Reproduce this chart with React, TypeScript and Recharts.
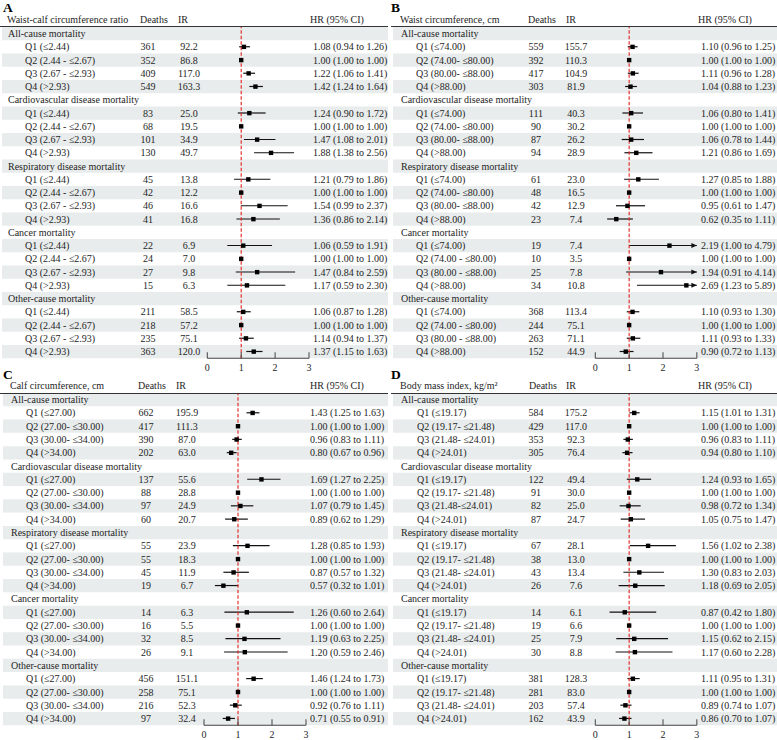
import { ComposedChart, Bar, Scatter, XAxis, YAxis, ReferenceLine, ReferenceArea } from "recharts";

const GROUPS = [
  "All-cause mortality",
  "Cardiovascular disease mortality",
  "Respiratory disease mortality",
  "Cancer mortality",
  "Other-cause mortality",
];
const X_TICKS = [0, 1, 2, 3];

// A: waist-calf circumference ratio
const WCR_LABELS = ["Q1 (≤2.44)", "Q2 (2.44 - ≤2.67)", "Q3 (2.67 - ≤2.93)", "Q4 (>2.93)"];
const WCR_DEATHS = [361, 352, 409, 549, 83, 68, 101, 130, 45, 42, 46, 41, 22, 24, 27, 15, 211, 218, 235, 363];
const WCR_IR = [92.2, 86.8, 117.0, 163.3, 25.0, 19.5, 34.9, 49.7, 13.8, 12.2, 16.6, 16.8, 6.9, 7.0, 9.8, 6.3, 58.5, 57.2, 75.1, 120.0];
const WCR_HR = [1.08, 1, 1.22, 1.42, 1.24, 1, 1.47, 1.88, 1.21, 1, 1.54, 1.36, 1.06, 1, 1.47, 1.17, 1.06, 1, 1.14, 1.37];
const WCR_LO = [0.94, 1, 1.06, 1.24, 0.9, 1, 1.08, 1.38, 0.79, 1, 0.99, 0.86, 0.59, 1, 0.84, 0.59, 0.87, 1, 0.94, 1.15];
const WCR_HI = [1.26, 1, 1.41, 1.64, 1.72, 1, 2.01, 2.56, 1.86, 1, 2.37, 2.14, 1.91, 1, 2.59, 2.3, 1.28, 1, 1.37, 1.63];

// B: waist circumference
const WC_LABELS = [
  "Q1 (≤74.00)", "Q2 (74.00- ≤80.00)", "Q3 (80.00- ≤88.00)", "Q4 (>88.00)",
  "Q1 (≤74.00)", "Q2 (74.00- ≤80.00)", "Q3 (80.00- ≤88.00)", "Q4 (>88.00)",
  "Q1 (≤74.00)", "Q2 (74.00- ≤80.00)", "Q3 (80.00- ≤88.00)", "Q4 (>88.00)",
  "Q1 (≤74.00)", "Q2 (74.00 - ≤80.00)", "Q3 (80.00 - ≤88.00)", "Q4 (>88.00)",
  "Q1 (≤74.00)", "Q2 (74.00 - ≤80.00)", "Q3 (80.00 - ≤88.00)", "Q4 (>88.00)",
];
const WC_DEATHS = [559, 392, 417, 303, 111, 90, 87, 94, 61, 48, 42, 23, 19, 10, 25, 34, 368, 244, 263, 152];
const WC_IR = [155.7, 110.3, 104.9, 81.9, 40.3, 30.2, 26.2, 28.9, 23.0, 16.5, 12.9, 7.4, 7.4, 3.5, 7.8, 10.8, 113.4, 75.1, 71.1, 44.9];
const WC_HR = [1.1, 1, 1.11, 1.04, 1.06, 1, 1.06, 1.21, 1.27, 1, 0.95, 0.62, 2.19, 1, 1.94, 2.69, 1.1, 1, 1.11, 0.9];
const WC_LO = [0.96, 1, 0.96, 0.88, 0.8, 1, 0.78, 0.86, 0.85, 1, 0.61, 0.35, 1.0, 1, 0.91, 1.23, 0.93, 1, 0.93, 0.72];
const WC_HI = [1.25, 1, 1.28, 1.23, 1.41, 1, 1.44, 1.69, 1.88, 1, 1.47, 1.11, 4.79, 1, 4.14, 5.89, 1.3, 1, 1.33, 1.13];

// C: calf circumference
const CC_LABELS = ["Q1 (≤27.00)", "Q2 (27.00- ≤30.00)", "Q3 (30.00- ≤34.00)", "Q4 (>34.00)"];
const CC_DEATHS = [662, 417, 390, 202, 137, 88, 97, 60, 55, 55, 45, 19, 14, 16, 32, 26, 456, 258, 216, 97];
const CC_IR = [195.9, 111.3, 87.0, 63.0, 55.6, 28.8, 24.9, 20.7, 23.9, 18.3, 11.9, 6.7, 6.3, 5.5, 8.5, 9.1, 151.1, 75.1, 52.3, 32.4];
const CC_HR = [1.43, 1, 0.96, 0.8, 1.69, 1, 1.07, 0.89, 1.28, 1, 0.87, 0.57, 1.26, 1, 1.19, 1.2, 1.46, 1, 0.92, 0.71];
const CC_LO = [1.25, 1, 0.83, 0.67, 1.27, 1, 0.79, 0.62, 0.85, 1, 0.57, 0.32, 0.6, 1, 0.63, 0.59, 1.24, 1, 0.76, 0.55];
const CC_HI = [1.63, 1, 1.11, 0.96, 2.25, 1, 1.45, 1.29, 1.93, 1, 1.32, 1.01, 2.64, 1, 2.25, 2.46, 1.73, 1, 1.11, 0.91];

// D: body mass index
const BMI_LABELS = [
  "Q1 (≤19.17)", "Q2 (19.17- ≤21.48)", "Q3 (21.48- ≤24.01)", "Q4 (>24.01)",
  "Q1 (≤19.17)", "Q2 (19.17- ≤21.48)", "Q3 (21.48-≤24.01)", "Q4 (>24.01)",
  "Q1 (≤19.17)", "Q2 (19.17- ≤21.48)", "Q3 (21.48- ≤24.01)", "Q4 (>24.01)",
  "Q1 (≤19.17)", "Q2 (19.17- ≤21.48)", "Q3 (21.48- ≤24.01)", "Q4 (>24.01)",
  "Q1 (≤19.17)", "Q2 (19.17- ≤21.48)", "Q3 (21.48- ≤24.01)", "Q4 (>24.01)",
];
const BMI_DEATHS = [584, 429, 353, 305, 122, 91, 82, 87, 67, 38, 43, 26, 14, 19, 25, 30, 381, 281, 203, 162];
const BMI_IR = [175.2, 117.0, 92.3, 76.4, 49.4, 30.0, 25.0, 24.7, 28.1, 13.0, 13.4, 7.6, 6.1, 6.6, 7.9, 8.8, 128.3, 83.0, 57.4, 43.9];
const BMI_HR = [1.15, 1, 0.96, 0.94, 1.24, 1, 0.98, 1.05, 1.56, 1, 1.3, 1.18, 0.87, 1, 1.15, 1.17, 1.11, 1, 0.89, 0.86];
const BMI_LO = [1.01, 1, 0.83, 0.8, 0.93, 1, 0.72, 0.75, 1.02, 1, 0.83, 0.69, 0.42, 1, 0.62, 0.6, 0.95, 1, 0.74, 0.7];
const BMI_HI = [1.31, 1, 1.11, 1.1, 1.65, 1, 1.34, 1.47, 2.38, 1, 2.03, 2.05, 1.8, 1, 2.15, 2.28, 1.31, 1, 1.07, 1.07];

const FONT = "'Liberation Serif', 'Times New Roman', serif";
const INK = "#1e1e1e";
const STRIPE = "#e8ecec";
const X_MAX = 3;

type Row = {
  id: string;
  kind: "group" | "q";
  text: string;
  deaths?: number;
  ir?: number;
  hr?: number | null;
  lo?: number;
  hi?: number;
  ci?: [number, number] | null;
  arrow?: boolean;
};

function buildRows(labels: string[], deaths: number[], ir: number[], hr: number[], lo: number[], hi: number[]): Row[] {
  const rows: Row[] = [];
  GROUPS.forEach((g, gi) => {
    rows.push({ id: `r${rows.length}`, kind: "group", text: g, hr: null, ci: null });
    for (let q = 0; q < 4; q++) {
      const i = gi * 4 + q;
      rows.push({
        id: `r${rows.length}`,
        kind: "q",
        text: labels[i % labels.length],
        deaths: deaths[i],
        ir: ir[i],
        hr: hr[i],
        lo: lo[i],
        hi: hi[i],
        ci: [lo[i], Math.min(hi[i], X_MAX)],
        arrow: hi[i] > X_MAX,
      });
    }
  });
  return rows;
}

const PANELS = [
  {
    letter: "A", title: "Waist-calf circumference ratio", left: 0, rowTop: 26.5, rowH: 13.25, x0: 207.3, unit: 33.9,
    stripe: [2, 388], rule: [0, 388],
    cols: { group: 8, q: 25, dHead: 140, dMid: 148, iHead: 178, iMid: 189, hHead: 310, hX: 313 },
    rows: buildRows(WCR_LABELS, WCR_DEATHS, WCR_IR, WCR_HR, WCR_LO, WCR_HI),
  },
  {
    letter: "B", title: "Waist circumference, cm", left: 388, rowTop: 26.5, rowH: 13.25, x0: 207.3, unit: 33.85,
    stripe: [5, 389], rule: [3, 389],
    cols: { group: 13, q: 28, dHead: 140, dMid: 148, iHead: 178, iMid: 188, hHead: 310, hX: 313 },
    rows: buildRows(WC_LABELS, WC_DEATHS, WC_IR, WC_HR, WC_LO, WC_HI),
  },
  {
    letter: "C", title: "Calf circumference, cm", left: 0, rowTop: 393.4, rowH: 13.29, x0: 204, unit: 34,
    stripe: [3, 388], rule: [0, 388],
    cols: { group: 11, q: 26, dHead: 138, dMid: 146, iHead: 176, iMid: 187, hHead: 310, hX: 310 },
    rows: buildRows(CC_LABELS, CC_DEATHS, CC_IR, CC_HR, CC_LO, CC_HI),
  },
  {
    letter: "D", title: "Body mass index, kg/m²", left: 388, rowTop: 393.4, rowH: 13.29, x0: 207.3, unit: 33.85,
    stripe: [5, 389], rule: [3, 389],
    cols: { group: 13, q: 29, dHead: 141, dMid: 148, iHead: 178, iMid: 188, hHead: 310, hX: 313 },
    rows: buildRows(BMI_LABELS, BMI_DEATHS, BMI_IR, BMI_HR, BMI_LO, BMI_HI),
  },
];

const PANEL_W = 389;

function RowTick(props: any) {
  const { y, payload, rows, cols } = props;
  const r: Row | undefined = rows.find((d: Row) => d.id === payload.value);
  if (!r) return <g />;
  const common = { y, dy: "0.35em", fontFamily: FONT, fontSize: 10, fill: INK };
  if (r.kind === "group") {
    return <text {...common} x={cols.group}>{r.text}</text>;
  }
  return (
    <g>
      <text {...common} x={cols.q}>{r.text}</text>
      <text {...common} x={cols.dMid} textAnchor="middle">{r.deaths}</text>
      <text {...common} x={cols.iMid} textAnchor="middle">{r.ir!.toFixed(1)}</text>
      <text {...common} x={cols.hX}>
        {`${r.hr!.toFixed(2)} (${r.lo!.toFixed(2)} to ${r.hi!.toFixed(2)})`}
      </text>
    </g>
  );
}

function AxisTick(props: any) {
  const { x, y, payload } = props;
  return (
    <g>
      <line x1={x} x2={x} y1={y - 6} y2={y} stroke="#444" strokeWidth={1} />
      <text x={x} y={y + 13} textAnchor="middle" fontFamily={FONT} fontSize={10} fill={INK}>
        {payload.value}
      </text>
    </g>
  );
}

function CiShape(props: any) {
  const { x, y, width, height, payload } = props;
  if (!payload || payload.kind !== "q" || !(Math.abs(width) > 0.5)) return <g />;
  const cy = y + height / 2;
  const x1 = Math.min(x, x + width);
  const x2 = Math.max(x, x + width);
  return (
    <g>
      <line x1={x1} x2={x2} y1={cy} y2={cy} stroke="#111" strokeWidth={1.2} />
      {payload.arrow && <path d={`M${x2 - 5.5},${cy - 2.6}L${x2},${cy}L${x2 - 5.5},${cy + 2.6}Z`} fill="#111" />}
    </g>
  );
}

function Square(props: any) {
  const { cx, cy, payload } = props;
  if (!payload || payload.kind !== "q" || !Number.isFinite(cx)) return <g />;
  return <rect x={cx - 2.2} y={cy - 2.2} width={4.4} height={4.4} fill="#000" />;
}

function ForestPanel({ p }: { p: (typeof PANELS)[number] }) {
  const plotH = p.rows.length * p.rowH;
  const axisH = 16;
  const plotW = X_MAX * p.unit;
  const toData = (px: number) => (px - p.x0) / p.unit;
  const lineY = p.rowTop;
  return (
    <>
      <div style={{ position: "absolute", left: p.left, top: p.rowTop, width: PANEL_W, height: plotH + axisH }}>
        <ComposedChart
          width={PANEL_W}
          height={plotH + axisH}
          data={p.rows}
          layout="vertical"
          margin={{ top: 0, right: PANEL_W - p.x0 - plotW, bottom: 0, left: 0 }}
          barCategoryGap={2}
        >
          {p.rows.map((r, i) =>
            i % 2 === 0 ? (
              <ReferenceArea
                key={r.id}
                y1={r.id}
                y2={r.id}
                x1={toData(p.stripe[0])}
                x2={toData(p.stripe[1])}
                fill={STRIPE}
                fillOpacity={1}
                stroke="none"
                ifOverflow="visible"
              />
            ) : null
          )}
          <YAxis
            type="category"
            dataKey="id"
            width={p.x0}
            axisLine={false}
            tickLine={false}
            interval={0}
            tick={(tp: any) => <RowTick {...tp} rows={p.rows} cols={p.cols} />}
          />
          <XAxis
            type="number"
            domain={[0, X_MAX]}
            ticks={X_TICKS}
            height={axisH}
            tickSize={0}
            tickMargin={0}
            tickLine={false}
            axisLine={{ stroke: "#444", strokeWidth: 1 }}
            tick={(tp: any) => <AxisTick {...tp} />}
          />
          <ReferenceLine x={1} stroke="#e3201c" strokeWidth={1.1} strokeDasharray="3.5 2" />
          <Bar dataKey="ci" shape={(bp: any) => <CiShape {...bp} />} isAnimationActive={false} />
          <Scatter dataKey="hr" shape={(sp: any) => <Square {...sp} />} isAnimationActive={false} />
        </ComposedChart>
      </div>
      <div
        style={{
          position: "absolute",
          left: p.left + p.rule[0],
          top: lineY - 0.5,
          width: p.rule[1] - p.rule[0],
          height: 1,
          background: "#333",
        }}
      />
      <div
        style={{
          position: "absolute",
          left: p.left + 3,
          top: lineY - 25.5,
          fontFamily: FONT,
          fontWeight: 700,
          fontSize: 13.5,
          lineHeight: "13px",
          color: "#000",
        }}
      >
        {p.letter}
      </div>
      {[
        { x: p.cols.group - 1, t: p.title },
        { x: p.cols.dHead, t: "Deaths" },
        { x: p.cols.iHead, t: "IR" },
        { x: p.cols.hHead, t: "HR (95% CI)" },
      ].map((h) => (
        <div
          key={h.t}
          style={{
            position: "absolute",
            left: p.left + h.x,
            top: lineY - 12,
            fontFamily: FONT,
            fontSize: 10,
            lineHeight: "10px",
            color: INK,
            whiteSpace: "nowrap",
          }}
        >
          {h.t}
        </div>
      ))}
    </>
  );
}

export default function App() {
  return (
    <div style={{ position: "absolute", left: 0, top: 0, width: 777, height: 740, background: "#fff", overflow: "hidden" }}>
      {PANELS.map((p) => (
        <ForestPanel key={p.letter} p={p} />
      ))}
    </div>
  );
}
